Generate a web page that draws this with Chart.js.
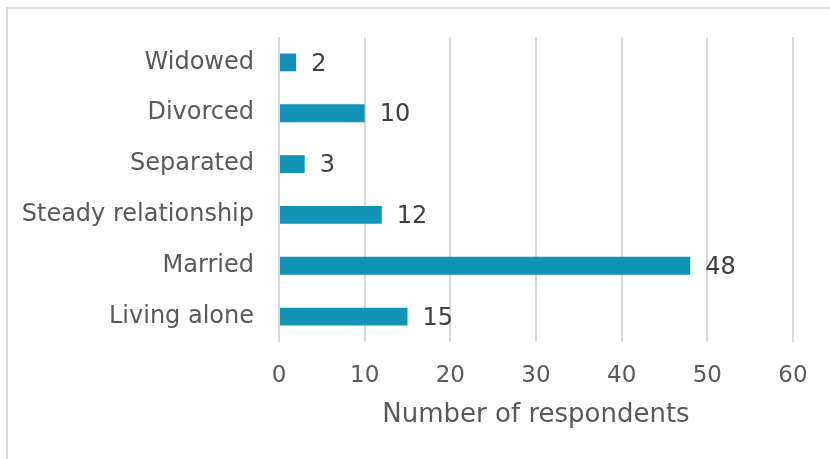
<!DOCTYPE html>
<html>
<head>
<meta charset="utf-8">
<script src="https://cdn.jsdelivr.net/npm/chart.js@4.4.1/dist/chart.umd.min.js"></script>
<style>
  html, body { margin: 0; padding: 0; background: #fff; }
  #wrap { position: relative; width: 830px; height: 459px; }
  #frame {
    position: absolute; left: 6px; top: 7px; right: -10px; bottom: -10px;
    border-top: 2px solid #d9d9d9; border-left: 2px solid #d9d9d9;
  }
  canvas { position: absolute; left: 0; top: 0; }
</style>
</head>
<body>
<div id="wrap">
  <div id="frame"></div>
  <canvas id="chart" width="830" height="459"></canvas>
</div>
<script>
// respondents by marital status
const categories = ["Widowed", "Divorced", "Separated", "Steady relationship", "Married", "Living alone"];
const respondents = [2, 10, 3, 12, 48, 15];
const xTicks = [0, 10, 20, 30, 40, 50, 60];

const FONT = "'DejaVu Sans', Verdana, sans-serif";
const BAR_COLOR = "#1294b8";
const TEXT = "#595959";

// writes the count just past the end of each bar
const valueLabels = {
  id: "valueLabels",
  afterDatasetsDraw(chart) {
    const { ctx } = chart;
    const meta = chart.getDatasetMeta(0);
    ctx.save();
    ctx.font = "24px " + FONT;
    ctx.fillStyle = "#404040";
    ctx.textAlign = "left";
    ctx.textBaseline = "middle";
    meta.data.forEach((bar, i) => {
      ctx.fillText(String(respondents[i]), bar.x + 15, bar.y + 2);
    });
    ctx.restore();
  },
};

new Chart(document.getElementById("chart"), {
  type: "bar",
  data: {
    labels: categories,
    datasets: [
      {
        data: respondents,
        backgroundColor: BAR_COLOR,
        borderWidth: 0,
        barPercentage: 0.7,
        categoryPercentage: 0.5,
      },
    ],
  },
  options: {
    indexAxis: "y",
    responsive: false,
    animation: false,
    layout: { padding: { top: 37, right: 37, bottom: 28, left: 0 } },
    plugins: { legend: { display: false }, tooltip: { enabled: false } },
    scales: {
      x: {
        min: 0,
        max: 60,
        afterBuildTicks(axis) {
          axis.ticks = xTicks.map((v) => ({ value: v }));
        },
        afterFit(axis) {
          axis.height = 459 - 342 - 28;
        },
        grid: { color: "#d9d9d9", lineWidth: 2, drawTicks: false },
        border: { display: false },
        ticks: { color: TEXT, font: { family: FONT, size: 23 }, padding: 20 },
        title: {
          display: true,
          text: "Number of respondents",
          color: TEXT,
          font: { family: FONT, size: 26 },
          padding: 0,
        },
      },
      y: {
        afterFit(axis) {
          axis.width = 279;
        },
        grid: { display: false },
        border: { display: false },
        ticks: { color: TEXT, font: { family: FONT, size: 24 }, padding: 17 },
      },
    },
  },
  plugins: [valueLabels],
});
</script>
</body>
</html>
